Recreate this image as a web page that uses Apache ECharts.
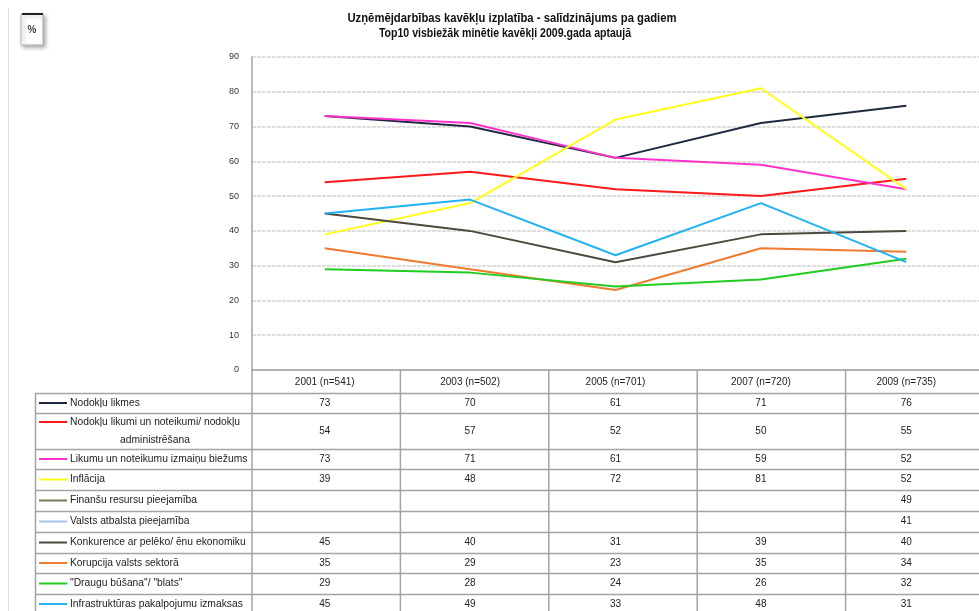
<!DOCTYPE html>
<html>
  <head>
    <meta charset="utf-8" />
    <title>Uzņēmējdarbības kavēkļu izplatība</title>
    <script src="https://cdn.jsdelivr.net/npm/echarts@6/dist/echarts.min.js"></script>
    <style>
      html, body { margin: 0; padding: 0; background: #fff; }
    </style>
  </head>
  <body>
    <div id="chart" style="width: 979px; height: 611px"></div>
    <script>
      /* ======= data ======= */
      var categories = ["2001 (n=541)", "2003 (n=502)", "2005 (n=701)", "2007 (n=720)", "2009 (n=735)"];
      var seriesNames = [
        "Nodokļu likmes",
        "Nodokļu likumi un noteikumi/ nodokļu administrēšana",
        "Likumu un noteikumu izmaiņu biežums",
        "Inflācija",
        "Finanšu resursu pieejamība",
        "Valsts atbalsta pieejamība",
        "Konkurence ar pelēko/ ēnu ekonomiku",
        "Korupcija valsts sektorā",
        "\"Draugu būšana\"/ \"blats\"",
        "Infrastruktūras pakalpojumu izmaksas"
      ];
      var nodoklu_likmes = [73, 70, 61, 71, 76];
      var nodoklu_likumi = [54, 57, 52, 50, 55];
      var izmainu_biezums = [73, 71, 61, 59, 52];
      var inflacija = [39, 48, 72, 81, 52];
      var finansu_resursi = [null, null, null, null, 49];
      var valsts_atbalsts = [null, null, null, null, 41];
      var konkurence = [45, 40, 31, 39, 40];
      var korupcija = [35, 29, 23, 35, 34];
      var draugu_busana = [29, 28, 24, 26, 32];
      var infrastruktura = [45, 49, 33, 48, 31];
      var seriesValues = [
        nodoklu_likmes, nodoklu_likumi, izmainu_biezums, inflacija, finansu_resursi,
        valsts_atbalsts, konkurence, korupcija, draugu_busana, infrastruktura
      ];
      var colors = ["#1f2940", "#ff1a1a", "#ff33cc", "#ffff1a", "#6f7d55", "#a8c4f0", "#4b4a3c", "#f07a30", "#22cc22", "#22b2f2"];

      /* ======= layout ======= */
      var gridLeft = 252, gridTop = 57, gridW = 742, gridH = 313;
      // table row borders (header first)
      var rowEdges = [370, 393, 413, 449, 469, 490, 511, 532, 553, 573, 594, 615];
      var tableLeft = 35;
      var lineCol = "#a3a3a3";
      var txtFont = "Liberation Sans, Arial, sans-serif";
      var cellFont = "10px " + txtFont;
      var labelFont = "10.3px " + txtFont;

      var series = seriesNames.map(function (name, i) {
        return {
          name: name,
          type: "line",
          data: seriesValues[i],
          showSymbol: false,
          symbol: "none",
          lineStyle: { color: colors[i], width: 2 },
          itemStyle: { color: colors[i] },
          z: 3
        };
      });

      var chart = echarts.init(document.getElementById("chart"));
      chart.setOption({
        animation: false,
        backgroundColor: "#fff",
        grid: { left: gridLeft, top: gridTop, width: gridW, height: gridH, containLabel: false },
        xAxis: {
          type: "category",
          data: categories,
          boundaryGap: true,
          axisLine: { show: true, lineStyle: { color: lineCol, width: 1.5 } },
          axisTick: { show: false },
          axisLabel: { show: false },
          splitLine: { show: false }
        },
        yAxis: {
          type: "value",
          min: 0,
          max: 90,
          interval: 10,
          axisLine: { show: true, lineStyle: { color: lineCol, width: 1.5 } },
          axisTick: { show: false },
          axisLabel: { color: "#333", fontSize: 9, margin: 13, fontFamily: txtFont },
          splitLine: { show: true, lineStyle: { color: "#d4d4d4", type: [4, 1], width: 1.5 } }
        },
        series: series
      });

      /* ======= title, box and data table ======= */
      var g = [];
      var titleFont = "bold 12px " + txtFont;
      g.push({
        type: "text", x: 512, y: 19, scaleX: 0.94, z: 10,
        style: { x: 0, y: 0, text: "Uzņēmējdarbības kavēkļu izplatība - salīdzinājums pa gadiem", align: "center", verticalAlign: "middle", font: titleFont, fill: "#111" }
      });
      g.push({
        type: "text", x: 505, y: 34, scaleX: 0.88, z: 10,
        style: { x: 0, y: 0, text: "Top10 visbiežāk minētie kavēkļi 2009.gada aptaujā", align: "center", verticalAlign: "middle", font: titleFont, fill: "#111" }
      });
      // left frame line
      g.push({ type: "line", shape: { x1: 8.5, y1: 8, x2: 8.5, y2: 611 }, style: { stroke: "#dcdcdc", lineWidth: 1 } });
      // % box
      g.push({
        type: "rect", shape: { x: 21, y: 14, width: 22, height: 31 },
        style: { fill: "#fff", stroke: "#b5b5b5", lineWidth: 1, shadowBlur: 4, shadowOffsetX: 2, shadowOffsetY: 2, shadowColor: "rgba(0,0,0,0.35)" }
      });
      g.push({ type: "line", shape: { x1: 22, y1: 14, x2: 43, y2: 14 }, style: { stroke: "#222", lineWidth: 2 } });
      g.push({
        type: "text", style: { x: 32, y: 30, text: "%", align: "center", verticalAlign: "middle", font: "bold 10px " + txtFont, fill: "#444" }
      });

      var colW = gridW / categories.length;
      var colX = categories.map(function (c) {
        return chart.convertToPixel({ xAxisIndex: 0 }, c);
      });
      // horizontal rules
      for (var k = 1; k < rowEdges.length - 1; k++) {
        g.push({ type: "line", shape: { x1: tableLeft, y1: rowEdges[k] + 0.5, x2: 979, y2: rowEdges[k] + 0.5 }, style: { stroke: lineCol, lineWidth: 1.5 } });
      }
      // vertical rules
      g.push({ type: "line", shape: { x1: tableLeft + 0.5, y1: rowEdges[1], x2: tableLeft + 0.5, y2: 611 }, style: { stroke: lineCol, lineWidth: 1.5 } });
      for (var c = 0; c <= categories.length; c++) {
        var vx = gridLeft + colW * c;
        g.push({ type: "line", shape: { x1: vx, y1: c === 0 ? gridTop + gridH : rowEdges[0], x2: vx, y2: 611 }, style: { stroke: lineCol, lineWidth: 1.5 } });
      }
      // header
      categories.forEach(function (cat, i) {
        g.push({
          type: "text",
          style: { x: colX[i], y: (rowEdges[0] + rowEdges[1]) / 2 + 1, text: cat, align: "center", verticalAlign: "middle", font: cellFont, fill: "#222" }
        });
      });
      // rows
      seriesNames.forEach(function (name, r) {
        var yTop = rowEdges[r + 1], yBot = rowEdges[r + 2];
        var yc = (yTop + yBot) / 2;
        if (r === seriesNames.length - 1) yc = yTop + 10;
        var yKey = r === 1 ? yTop + 9 : yc;
        g.push({ type: "line", shape: { x1: 39, y1: yKey, x2: 67, y2: yKey }, style: { stroke: colors[r], lineWidth: 2 } });
        if (r === 1) {
          g.push({ type: "text", style: { x: 70, y: yTop + 9, text: "Nodokļu likumi un noteikumi/ nodokļu", align: "left", verticalAlign: "middle", font: labelFont, fill: "#222" } });
          g.push({ type: "text", style: { x: 155, y: yTop + 27, text: "administrēšana", align: "center", verticalAlign: "middle", font: labelFont, fill: "#222" } });
        } else {
          g.push({ type: "text", style: { x: 70, y: yc, text: name, align: "left", verticalAlign: "middle", font: labelFont, fill: "#222" } });
        }
        seriesValues[r].forEach(function (v, i) {
          if (v === null) return;
          g.push({ type: "text", style: { x: colX[i], y: yc, text: String(v), align: "center", verticalAlign: "middle", font: cellFont, fill: "#222" } });
        });
      });

      chart.setOption({ graphic: { elements: g } });
    </script>
  </body>
</html>
